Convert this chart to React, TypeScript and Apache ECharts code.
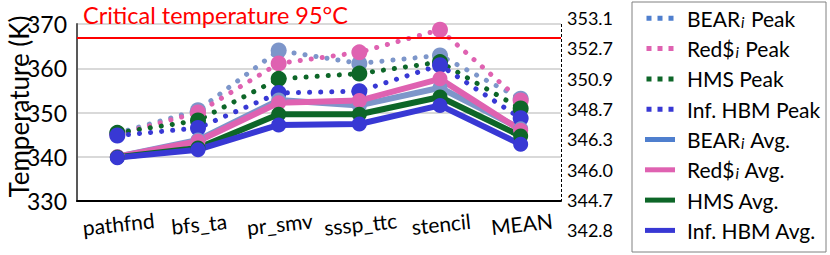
import React, { useEffect, useRef } from 'react';
import * as echarts from 'echarts';

const categories = ['pathfnd', 'bfs_ta', 'pr_smv', 'sssp_ttc', 'stencil', 'MEAN'];
const seriesNames = [
  'BEAR_i Peak', 'Red$_i Peak', 'HMS Peak', 'Inf. HBM Peak',
  'BEAR_i Avg.', 'Red$_i Avg.', 'HMS Avg.', 'Inf. HBM Avg.',
];
const bearPeak = [345.3, 350.5, 364.0, 361.1, 362.9, 353.1];
const redPeak = [345.0, 350.0, 361.1, 363.6, 368.7, 352.7];
const hmsPeak = [345.4, 348.2, 357.6, 358.8, 361.4, 350.9];
const hbmPeak = [344.8, 346.5, 354.4, 354.8, 360.7, 348.7];
const bearAvg = [340.0, 343.8, 352.8, 351.6, 355.6, 346.3];
const redAvg = [340.0, 343.5, 352.2, 352.7, 357.6, 346.0];
const hmsAvg = [339.9, 342.0, 349.6, 349.6, 353.5, 344.7];
const hbmAvg = [339.8, 341.6, 347.2, 347.4, 351.6, 342.8];
const meanLabels = ['353.1', '352.7', '350.9', '348.7', '346.3', '346.0', '344.7', '342.8'];
const criticalTemp = 367;
const criticalText = 'Critical temperature 95°C';
const yMin = 330;
const yMax = 370;
const yStep = 10;

const FONT = 'Lato';
const colors = ['#7D96CA', '#DF62B1', '#0D6628', '#3838D4'];
const legendColors = ['#4F7FCE', '#DF62B1', '#0D6628', '#3838D4'];

export default function App() {
  const ref = useRef<HTMLDivElement>(null);
  useEffect(() => {
    if (!ref.current) return;
    const chart = echarts.init(ref.current, undefined, { renderer: 'svg' });
    const peakData = [bearPeak, redPeak, hmsPeak, hbmPeak];
    const avgData = [bearAvg, redAvg, hmsAvg, hbmAvg];
    const series: any[] = [];
    peakData.forEach((d, i) => {
      series.push({
        name: seriesNames[i],
        type: 'line',
        data: d,
        color: colors[i],
        symbol: 'circle',
        symbolSize: 16,
        lineStyle: { width: 5, type: [0.1, 11], cap: 'round', color: colors[i] },
        itemStyle: { color: colors[i] },
        markLine: i === 0 ? {
          silent: true,
          symbol: 'none',
          label: { show: false },
          lineStyle: { color: '#FF0000', width: 2, type: 'solid' },
          data: [{ yAxis: criticalTemp }],
        } : undefined,
      });
    });
    avgData.forEach((d, i) => {
      series.push({
        name: seriesNames[i + 4],
        type: 'line',
        data: d,
        color: colors[i],
        symbol: 'circle',
        symbolSize: 15,
        lineStyle: { width: 6, color: colors[i] },
        itemStyle: { color: colors[i] },
      });
    });
    const peakIcon = 'path://M0,0h5v5h-5zM11,0h5v5h-5zM22,0h5v5h-5z';
    chart.setOption({
      animation: false,
      title: {
        text: criticalText,
        left: 83,
        top: 3,
        padding: 0,
        textStyle: { color: '#FF0000', fontSize: 23.5, fontWeight: 'normal', fontFamily: FONT },
      },
      grid: [
        { left: 77, right: 269, top: 24, bottom: 54, outerBoundsMode: 'none', containLabel: false },
        { left: 77, right: 269, top: 3, bottom: 9.5, outerBoundsMode: 'none', containLabel: false },
      ],
      xAxis: [
        {
          type: 'category',
          data: categories,
          gridIndex: 0,
          boundaryGap: true,
          axisLine: { lineStyle: { color: '#000', width: 2 } },
          axisTick: { show: false },
          axisLabel: {
            fontSize: 21, color: '#000', fontFamily: FONT, rotate: 6,
            align: 'center', verticalAlign: 'top', margin: 12, interval: 0,
          },
          splitLine: {
            show: true,
            interval: (index: number) => index === 5,
            lineStyle: { color: '#000', width: 1, type: [3, 2] },
          },
        },
        { type: 'value', gridIndex: 1, show: false },
      ],
      yAxis: [
        {
          type: 'value',
          gridIndex: 0,
          min: yMin,
          max: yMax,
          interval: yStep,
          name: 'Temperature (K)',
          nameLocation: 'middle',
          nameGap: 45,
          nameMoveOverlap: false,
          nameTextStyle: { fontSize: 26, color: '#000', fontFamily: FONT, padding: [0, 0, 0, 12] },
          axisLine: { show: true, lineStyle: { color: '#595959', width: 2 } },
          axisTick: { show: false },
          axisLabel: { fontSize: 23, color: '#000', fontFamily: FONT, margin: 10 },
          splitLine: { lineStyle: { color: '#D9D9D9', width: 2 } },
        },
        {
          type: 'category',
          gridIndex: 1,
          data: meanLabels,
          inverse: true,
          position: 'right',
          boundaryGap: true,
          axisLine: { show: false },
          axisTick: { show: false },
          splitLine: { show: false },
          axisLabel: { fontSize: 18, color: '#000', fontFamily: FONT, margin: 6, interval: 0 },
        },
      ],
      legend: {
        orient: 'vertical',
        left: 645,
        top: 3.3,
        padding: 0,
        itemGap: 0.3,
        itemWidth: 30,
        itemHeight: 5,
        selectedMode: false,
        itemStyle: { borderWidth: 0 },
        formatter: (name: string) => name.replace('_i', '{sub|i}'),
        textStyle: {
          fontSize: 21, color: '#000', fontFamily: FONT, lineHeight: 30, padding: [0, 0, 0, 7],
          rich: {
            sub: { fontSize: 15, fontStyle: 'italic', fontFamily: FONT, color: '#000', lineHeight: 30, padding: [7, 1, 0, 1] },
          },
        },
        data: seriesNames.map((n, i) => ({
          name: n,
          icon: i < 4 ? peakIcon : 'rect',
          itemStyle: { color: legendColors[i % 4], borderWidth: 0 },
        })),
      },
      graphic: [
        {
          type: 'rect',
          shape: { x: 632, y: 2, width: 194, height: 250 },
          style: { fill: 'none', stroke: '#808080', lineWidth: 1 },
          silent: true,
        },
      ],
      series,
    });
    return () => chart.dispose();
  }, []);
  return <div ref={ref} style={{ position: 'absolute', left: 0, top: 0, width: 830, height: 255 }} />;
}
